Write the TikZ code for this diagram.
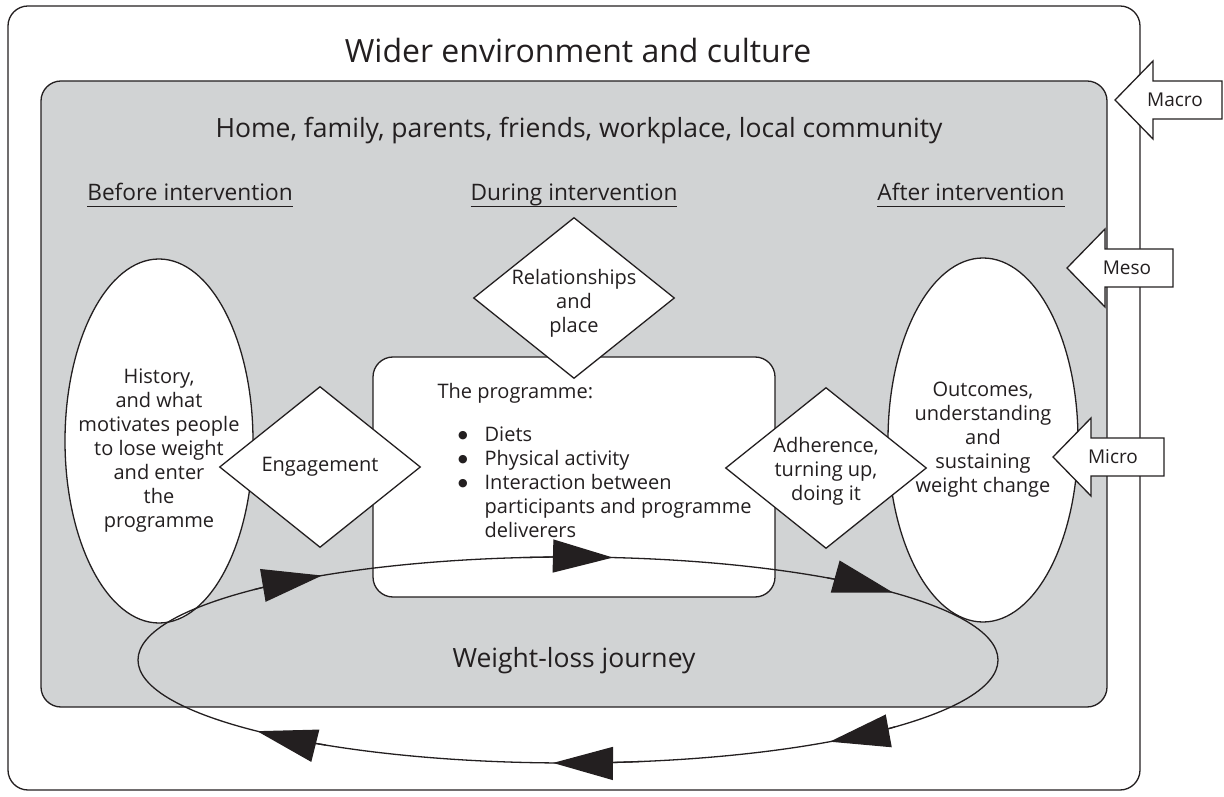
\documentclass[tikz,border=0pt]{standalone}
\usepackage{fontspec}
\setmainfont{Open Sans}
\newfontfamily\symfont{DejaVu Sans}
\usepackage{tikz}
\usetikzlibrary{arrows.meta,positioning,shapes.geometric,calc}
\definecolor{inkblack}{HTML}{231F20}
\definecolor{mesogray}{HTML}{D1D3D4}
\newcommand{\ulheading}[1]{\setbox0\hbox{#1}\rlap{\rule[-6pt]{\wd0}{1.3pt}}\box0}
\newcommand{\bigbullet}{\makebox[47pt][r]{\raisebox{3.5pt}{\symfont\fontsize{11}{12}\selectfont ●}\hspace{17pt}}}

\begin{document}
\begin{tikzpicture}[
    x=1pt, y=1pt, line width=1.3pt, color=inkblack,
    outerbox/.style={draw, rounded corners=20pt},
    innerbox/.style={draw, fill=mesogray, rounded corners=20pt},
    bubble/.style={ellipse, draw, fill=white, inner sep=0pt},
    gate/.style={diamond, draw, fill=white, inner sep=0pt,
                 minimum width=201pt, minimum height=161pt},
    progbox/.style={rectangle, draw, fill=white, rounded corners=20pt, inner sep=0pt},
    bodytext/.style={align=center, font=\fontsize{20}{24}\selectfont},
    heading/.style={anchor=base, font=\fontsize{22.7}{27}\selectfont},
    arr/.style={-{Triangle[length=60pt, width=33pt]}},
    levelarrow/.style={draw, fill=white, line join=miter},
    leveltext/.style={font=\fontsize{19}{23}\selectfont},
]
    \useasboundingbox (0,0) rectangle (1224,796);

    % macro level
    \draw[outerbox] (8,6) rectangle (1140,790);
    \node[anchor=base, font=\fontsize{32}{38}\selectfont] (wider) at (578,733)
        {Wider environment and culture};

    % meso level
    \draw[innerbox] (41,89) rectangle (1107,715);
    \node[anchor=base, font=\fontsize{26.5}{32}\selectfont] (home) at (579,658)
        {Home, family, parents, friends, workplace, local community};

    \node[heading] (hbefore) at (190,595) {\ulheading{Before intervention}};
    \node[heading] (hduring) at (574,595) {\ulheading{During intervention}};
    \node[heading] (hafter)  at (971,595) {\ulheading{After intervention}};

    % before / after
    \node[bubble, minimum width=188pt, minimum height=364pt,
          label={[bodytext, yshift=-10pt]center:History,\\and what\\motivates people\\to lose weight\\and enter\\the\\programme}]
          (history) at (159,355) {};
    \node[bubble, minimum width=190pt, minimum height=364pt,
          label={[bodytext]center:Outcomes,\\understanding\\and\\sustaining\\weight change}]
          (outcomes) at (983,356) {};

    % during
    \node[progbox, minimum width=402pt, minimum height=240pt] (prog) at (574,319) {};
    \node[anchor=north west, align=left, inner sep=0pt,
          font=\fontsize{20}{24}\selectfont] (progtext) at (437,413)
        {The programme:\\[19pt]
         \bigbullet Diets\\
         \bigbullet Physical activity\\
         \bigbullet Interaction between\\
         \hspace*{47pt}participants and programme\\
         \hspace*{47pt}deliverers};

    \node[gate, label={[bodytext]center:Engagement}] (engage) at (320,329) {};
    \node[gate, label={[bodytext, yshift=-5pt]center:Relationships\\and\\place}] (relate) at (574,498) {};
    \node[gate, label={[bodytext, yshift=-3pt]center:Adherence,\\turning up,\\doing it}] (adhere) at (826,328) {};

    % journey loop
    \coordinate (jc) at (568,136);
    \draw (jc) ellipse[x radius=430, y radius=103];
    \foreach \t in {124.9, 84, 40.9, -52.5, -92, -136.3}
        \draw[arr] ([shift={(\t+12:430 and 103)}]jc)
            arc[start angle=\t+12, end angle=\t, x radius=430, y radius=103];
    \node[anchor=base, font=\fontsize{26.5}{32}\selectfont] (journey) at (574,129)
        {Weight-loss journey};

    % levels
    \foreach \nm/\txt/\tx/\ty/\len in {macro/Macro/1115/696/107, meso/Meso/1067/528/106, micro/Micro/1053/339/111} {
        \draw[levelarrow] (\tx,\ty) -- ++(38,39) -- ++(0,-20) -- ++(\len-38,0)
            -- ++(0,-38) -- ++(38-\len,0) -- ++(0,-20) -- cycle;
        \node[leveltext] (\nm) at (\tx+60,\ty) {\txt};
    }
\end{tikzpicture}
\end{document}
